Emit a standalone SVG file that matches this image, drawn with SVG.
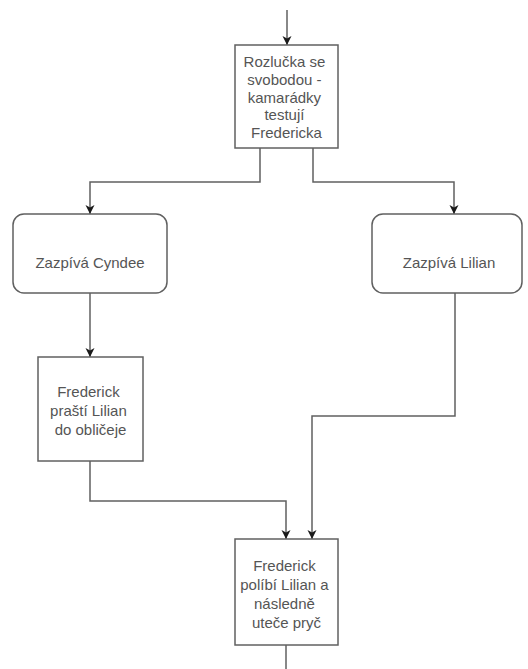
<svg xmlns="http://www.w3.org/2000/svg" width="528" height="669" viewBox="0 0 528 669">
  <style>
    .box { fill: #ffffff; stroke: #606060; stroke-width: 1.5; }
    .edge { fill: none; stroke: #606060; stroke-width: 1.5; }
    .label { font-family: "Liberation Sans", Arial, sans-serif; font-size: 15px; fill: #555555; text-anchor: middle; }
  </style>
  <defs>
    <marker id="arrow" markerUnits="userSpaceOnUse" markerWidth="10" markerHeight="10" refX="9" refY="5" orient="auto">
      <path d="M0,0.5 L9,5 L0,9.5 L2.5,5 Z" fill="#1a1a1a"/>
    </marker>
  </defs>
  <rect width="528" height="669" fill="#ffffff"/>

  <g id="connectors">
    <path class="edge" d="M287,10 V45" marker-end="url(#arrow)"/>
    <path class="edge" d="M260,148 V182 H90 V214" marker-end="url(#arrow)"/>
    <path class="edge" d="M313,148 V182 H454 V214" marker-end="url(#arrow)"/>
    <path class="edge" d="M90,293 V357" marker-end="url(#arrow)"/>
    <path class="edge" d="M90,461 V501 H286 V539" marker-end="url(#arrow)"/>
    <path class="edge" d="M455,293 V416 H312 V539" marker-end="url(#arrow)"/>
    <path class="edge" d="M286,645 V669"/>
  </g>

  <g id="rozlucka">
    <rect class="box" x="235" y="45" width="103" height="103"/>
    <text class="label">
      <tspan x="286.5" y="67">Rozlučka se</tspan>
      <tspan x="286.5" y="85">svobodou -</tspan>
      <tspan x="286.5" y="102.5">kamarádky</tspan>
      <tspan x="286.5" y="120">testují</tspan>
      <tspan x="286.5" y="138">Fredericka</tspan>
    </text>
  </g>

  <g id="zazpiva-cyndee">
    <rect class="box" x="13" y="214" width="154" height="79" rx="11" ry="11"/>
    <text class="label" x="90" y="268">Zazpívá Cyndee</text>
  </g>

  <g id="zazpiva-lilian">
    <rect class="box" x="372" y="214" width="150" height="79" rx="11" ry="11"/>
    <text class="label" x="449" y="268">Zazpívá Lilian</text>
  </g>

  <g id="frederick-prasti">
    <rect class="box" x="38" y="357" width="105" height="104"/>
    <text class="label">
      <tspan x="90.5" y="397">Frederick</tspan>
      <tspan x="90.5" y="416">praští Lilian</tspan>
      <tspan x="90.5" y="435">do obličeje</tspan>
    </text>
  </g>

  <g id="frederick-polibi">
    <rect class="box" x="235" y="539" width="103" height="106"/>
    <text class="label">
      <tspan x="286.5" y="571">Frederick</tspan>
      <tspan x="286.5" y="590">políbí Lilian a</tspan>
      <tspan x="286.5" y="609">následně</tspan>
      <tspan x="286.5" y="628">uteče pryč</tspan>
    </text>
  </g>
</svg>
